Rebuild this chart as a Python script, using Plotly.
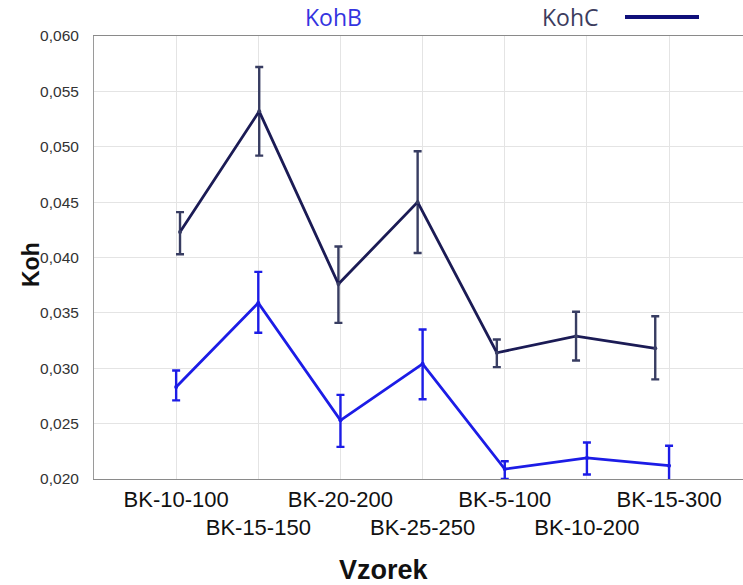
import plotly.graph_objects as go

categories = ["BK-10-100", "BK-15-150", "BK-20-200", "BK-25-250", "BK-5-100", "BK-10-200", "BK-15-300"]

kohb_values = [0.0283, 0.0359, 0.0253, 0.0304, 0.0209, 0.0219, 0.0212]
kohb_upper = [0.0298, 0.0387, 0.0276, 0.0335, 0.0216, 0.0233, 0.0230]
kohb_lower = [0.0271, 0.0332, 0.0229, 0.0272, 0.0200, 0.0204, 0.0194]

kohc_values = [0.0423, 0.0532, 0.0376, 0.0450, 0.0314, 0.0329, 0.0318]
kohc_upper = [0.0441, 0.0572, 0.0410, 0.0496, 0.0326, 0.0351, 0.0347]
kohc_lower = [0.0403, 0.0492, 0.0341, 0.0404, 0.0301, 0.0307, 0.0290]

y_ticks = [0.020, 0.025, 0.030, 0.035, 0.040, 0.045, 0.050, 0.055, 0.060]

pos = list(range(1, len(categories) + 1))
ticktext = [c if i % 2 == 0 else "<br>" + c for i, c in enumerate(categories)]

BLUE = "#1c1ce6"
NAVY = "#1b1b55"

fig = go.Figure()

fig.add_trace(go.Scatter(
    x=pos, y=kohb_values, mode="lines+markers", name="KohB",
    line=dict(color=BLUE, width=2.8),
    marker=dict(color=BLUE, size=4),
    error_y=dict(type="data", symmetric=False,
                 array=[u - v for u, v in zip(kohb_upper, kohb_values)],
                 arrayminus=[v - l for l, v in zip(kohb_lower, kohb_values)],
                 color=BLUE, thickness=2.4, width=4),
    xaxis="x", yaxis="y", showlegend=False,
))

fig.add_trace(go.Scatter(
    x=pos, y=kohc_values, mode="lines+markers", name="KohC",
    line=dict(color=NAVY, width=2.8),
    marker=dict(color="#3a3f66", size=4),
    error_y=dict(type="data", symmetric=False,
                 array=[u - v for u, v in zip(kohc_upper, kohc_values)],
                 arrayminus=[v - l for l, v in zip(kohc_lower, kohc_values)],
                 color="#383d62", thickness=2.4, width=4),
    xaxis="x2", yaxis="y", showlegend=False,
))

fig.update_layout(
    width=743, height=585,
    margin=dict(l=94, r=0, t=36, b=106),
    paper_bgcolor="white", plot_bgcolor="white",
    separators=",.",
    font=dict(family="Liberation Sans, Arial", color="#222"),
    xaxis=dict(
        range=[0, 7.9], tickmode="array", tickvals=pos, ticktext=ticktext,
        tickangle=0, automargin=False,
        tickfont=dict(size=22, color="#111"),
        showgrid=True, gridcolor="#e4e4e4", gridwidth=1,
        showline=True, linecolor="#8a8a8a", linewidth=1.2, mirror=True,
        ticks="", zeroline=False, fixedrange=True, ticklabelstandoff=0,
    ),
    xaxis2=dict(
        range=[-0.086, 8.108], overlaying="x", visible=False,
        showgrid=False, zeroline=False,
    ),
    yaxis=dict(
        range=[0.020, 0.060], tickmode="array", tickvals=y_ticks,
        tickformat=".3f", tickfont=dict(size=15.5, color="#333"),
        showgrid=True, gridcolor="#e4e4e4", gridwidth=1,
        showline=True, linecolor="#9a9a9a", linewidth=1,
        ticks="", zeroline=False, ticklabelstandoff=11, automargin=False,
    ),
    annotations=[
        dict(text="<b>Koh</b>", xref="paper", yref="paper", x=(31 - 94) / 649, y=(479 - 265) / 443,
             xanchor="center", yanchor="middle", showarrow=False, textangle=-90,
             font=dict(size=23, color="#111", family="Liberation Sans, Arial")),
        dict(text="<b>Vzorek</b>", xref="paper", yref="paper", x=(384 - 94) / 649, y=-(570 - 479) / 443,
             xanchor="center", yanchor="middle", showarrow=False,
             font=dict(size=27, color="#111", family="Liberation Sans, Arial")),
        dict(text="KohB", xref="paper", yref="paper", x=(333 - 94) / 649, y=(479 - 17) / 443,
             xanchor="center", yanchor="middle", showarrow=False,
             font=dict(size=23, color="#3434e0", family="Open Sans")),
        dict(text="KohC", xref="paper", yref="paper", x=(570 - 94) / 649, y=(479 - 17) / 443,
             xanchor="center", yanchor="middle", showarrow=False,
             font=dict(size=23, color="#3c3c5e", family="Open Sans")),
    ],
    shapes=[
        dict(type="line", xref="paper", yref="paper",
             x0=(625 - 94) / 649, x1=(699 - 94) / 649,
             y0=(479 - 17) / 443, y1=(479 - 17) / 443,
             line=dict(color="#10107a", width=4)),
    ],
)

fig.write_html("out.html")
